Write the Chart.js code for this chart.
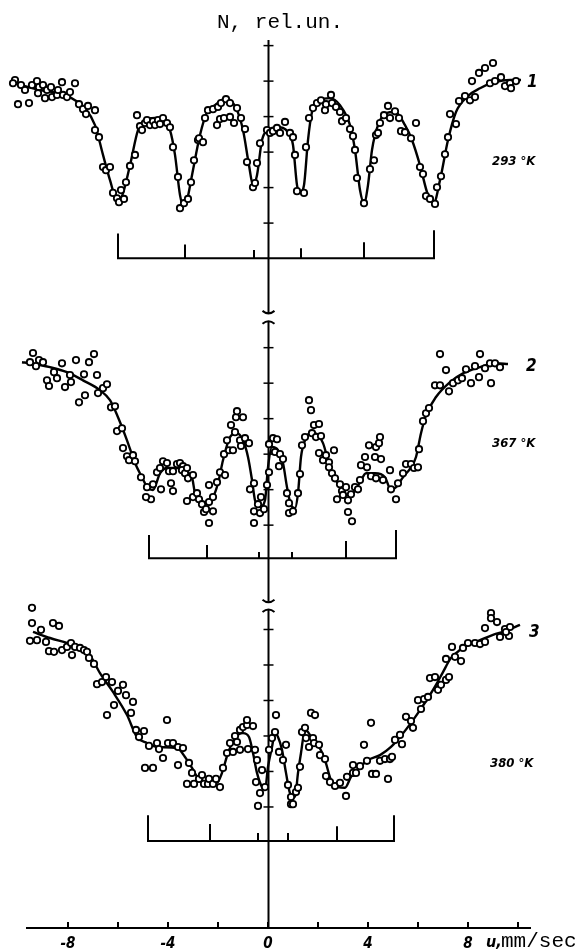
<!DOCTYPE html>
<html>
<head>
<meta charset="utf-8">
<script src="https://cdn.jsdelivr.net/npm/chart.js@4.4.1/dist/chart.umd.min.js"></script>
<style>
  html, body { margin: 0; padding: 0; background: #fff; }
  #wrap { width: 587px; height: 951px; }
</style>
</head>
<body>
<div id="wrap"><canvas id="chart" width="587" height="951"></canvas></div>
<script>
/* Mossbauer spectra at three temperatures, N (rel. un.) vs velocity u (mm/sec) */

// velocity axis
const X_TICK_LABELS = [-8, -4, 0, 4, 8];
const X_TICK_MARKS = [-8, -6, -4, -2, 0, 2, 4, 6, 8, 10];
const Y_TICKS = [0, 1, 2, 3, 4, 5];   // ticks of each panel, local units

const LABELS = ['1', '2', '3'];
const TEMPS = ['293 °K', '367 °K', '380 °K'];

// each spectrum is shifted up by its own offset (rel. un.)
const OFFSETS = [19.86, 11.35, 3.41];

// spectrum 1 (293 K): measured counts [u, N]
const spec1 = [
  [-10.12,4.03],[-10.20,3.94],[-9.88,3.89],[-9.72,3.75],[-9.44,3.89],[-9.24,4.00],[-9.16,3.83],[-9.00,3.89],
  [-9.20,3.66],[-8.92,3.52],[-8.84,3.75],[-8.68,3.83],[-8.64,3.55],[-8.44,3.61],[-8.40,3.75],[-8.24,3.97],
  [-8.20,3.61],[-8.04,3.55],[-7.92,3.69],[-7.72,3.94],[-10.00,3.35],[-9.56,3.38],[-7.56,3.35],[-7.40,3.21],
  [-7.20,3.30],[-7.28,3.07],[-6.92,3.18],[-6.92,2.62],[-6.76,2.42],[-6.60,1.58],[-6.48,1.49],[-6.32,1.58],
  [-6.20,0.85],[-6.04,0.70],[-5.96,0.59],[-5.88,0.93],[-5.76,0.68],[-5.68,1.15],[-5.52,1.61],[-5.32,1.92],
  [-5.24,3.04],[-5.12,2.73],[-5.04,2.62],[-4.92,2.82],[-4.84,2.90],[-4.72,2.76],[-4.60,2.87],[-4.52,2.76],
  [-4.40,2.90],[-4.32,2.79],[-4.20,2.96],[-4.04,2.82],[-3.92,2.70],[-3.80,2.14],[-3.60,1.30],[-3.52,0.42],
  [-3.36,0.56],[-3.20,0.68],[-3.08,1.15],[-2.96,1.77],[-2.80,2.34],[-2.76,2.39],[-2.60,2.28],[-2.52,2.96],
  [-2.40,3.18],[-2.20,3.21],[-2.00,3.27],[-1.88,3.38],[-1.68,3.49],[-1.52,3.38],[-1.24,3.24],[-1.08,2.96],
  [-2.04,2.76],[-1.92,2.93],[-1.76,2.96],[-1.52,2.99],[-1.36,2.82],[-0.92,2.65],[-0.84,1.72],[-0.60,1.01],
  [-0.52,1.13],[-0.44,1.69],[-0.32,2.25],[-0.04,2.62],[0.08,2.54],[0.20,2.59],[0.36,2.68],[0.48,2.54],
  [0.68,2.85],[0.88,2.54],[1.00,2.42],[1.08,1.92],[1.16,0.90],[1.44,0.85],[1.52,2.14],[1.64,2.96],
  [1.80,3.24],[1.96,3.38],[2.12,3.46],[2.28,3.18],[2.32,3.35],[2.52,3.61],[2.56,3.38],[2.72,3.27],
  [2.88,3.13],[2.96,2.87],[3.12,2.96],[3.28,2.65],[3.40,2.45],[3.48,2.06],[3.56,1.27],[3.84,0.56],
  [4.08,1.52],[4.24,1.77],[4.32,2.48],[4.40,2.54],[4.48,2.82],[4.64,3.04],[4.80,3.30],[4.88,2.96],
  [5.08,3.15],[5.24,2.96],[5.32,2.59],[5.48,2.56],[5.72,2.39],[5.92,2.82],[6.08,1.58],[6.20,1.38],
  [6.32,0.76],[6.48,0.68],[6.68,0.54],[6.76,1.01],[6.92,1.32],[7.08,1.94],[7.20,2.42],[7.28,3.07],
  [7.52,2.79],[7.64,3.44],[7.88,3.58],[8.08,3.46],[8.28,3.55],[8.16,4.00],[8.44,4.23],[8.68,4.37],
  [9.00,4.51],[8.88,3.94],[9.08,4.00],[9.32,4.11],[9.48,3.86],[9.68,3.94],[9.72,3.80],[9.92,4.00]
];

// spectrum 1: fitted curve
const fit1 = [
  [-10.12,3.94],[-9.12,3.75],[-8.12,3.61],[-7.72,3.46],[-7.32,3.24],[-6.92,2.76],[-6.60,1.92],[-6.32,1.21],
  [-6.04,0.65],[-5.84,0.76],[-5.52,1.63],[-5.20,2.62],[-4.92,2.90],[-4.52,2.96],[-4.20,2.90],[-3.92,2.62],
  [-3.72,1.92],[-3.52,0.79],[-3.40,0.51],[-3.24,0.65],[-3.04,1.35],[-2.72,2.48],[-2.44,3.13],[-2.12,3.32],
  [-1.68,3.52],[-1.28,3.24],[-1.00,2.62],[-0.76,1.63],[-0.60,1.07],[-0.44,1.35],[-0.24,2.34],[0.00,2.62],
  [0.40,2.70],[0.80,2.56],[1.00,2.20],[1.16,1.07],[1.28,0.85],[1.44,1.07],[1.60,2.34],[1.76,3.13],
  [2.08,3.46],[2.48,3.52],[2.88,3.32],[3.28,2.76],[3.48,2.06],[3.68,0.93],[3.84,0.56],[4.00,1.07],
  [4.16,2.06],[4.40,2.76],[4.72,3.10],[5.08,3.13],[5.48,2.76],[5.76,2.34],[6.08,1.63],[6.40,0.79],
  [6.64,0.59],[6.88,1.21],[7.20,2.34],[7.52,3.13],[8.00,3.58],[8.48,3.80],[9.08,3.97],[9.68,4.03],[10.12,4.03]
];

// spectrum 2 (367 K): measured counts
const spec2 = [
  [-9.40,4.85],[-9.52,4.59],[-9.28,4.48],[-9.16,4.65],[-9.00,4.59],[-8.84,4.08],[-8.76,3.92],[-8.56,4.31],
  [-8.44,4.14],[-8.24,4.56],[-8.12,3.89],[-7.92,4.23],[-7.88,4.03],[-7.68,4.65],[-7.56,3.46],[-7.32,3.66],
  [-7.36,4.25],[-7.16,4.59],[-6.96,4.82],[-6.84,4.23],[-6.80,3.72],[-6.60,3.86],[-6.44,3.97],[-6.28,3.32],
  [-6.12,3.35],[-6.04,2.65],[-5.84,2.73],[-5.80,2.17],[-5.64,1.94],[-5.56,1.83],[-5.40,1.97],[-5.32,1.80],
  [-5.08,1.35],[-4.84,1.07],[-4.68,0.73],[-4.88,0.79],[-4.60,1.15],[-4.44,1.49],[-4.32,1.61],[-4.28,1.01],
  [-4.20,1.80],[-4.04,1.75],[-3.96,1.52],[-3.88,1.18],[-3.80,0.96],[-3.80,1.52],[-3.64,1.72],[-3.52,1.75],
  [-3.40,1.66],[-3.44,1.55],[-3.32,1.46],[-3.24,1.61],[-3.20,1.32],[-3.00,1.41],[-3.00,0.79],[-3.24,0.68],
  [-2.84,0.90],[-2.76,0.73],[-2.64,0.59],[-2.56,0.37],[-2.48,0.45],[-2.36,0.65],[-2.36,0.06],[-2.36,1.13],
  [-2.20,0.79],[-2.20,0.39],[-2.04,1.21],[-1.92,1.49],[-1.72,1.41],[-1.76,2.00],[-1.64,2.39],[-1.56,2.11],
  [-1.48,2.82],[-1.40,2.11],[-1.32,2.62],[-1.28,3.04],[-1.24,3.21],[-1.12,2.39],[-1.00,3.04],[-1.08,2.23],
  [-0.92,2.45],[-0.76,2.31],[-0.72,1.01],[-0.56,1.18],[-0.56,0.39],[-0.56,0.06],[-0.40,0.59],[-0.28,0.79],
  [-0.32,0.34],[-0.16,0.45],[-0.04,1.13],[0.04,1.49],[0.04,2.28],[0.20,2.45],[0.36,2.42],[0.28,2.06],
  [0.48,2.00],[0.44,1.66],[0.60,1.86],[0.76,0.90],[0.84,0.62],[0.84,0.34],[1.00,0.39],[1.20,0.90],
  [1.28,1.44],[1.36,2.25],[1.48,2.48],[1.64,3.52],[1.72,3.24],[1.84,2.82],[2.04,2.85],[1.76,2.59],
  [1.92,2.48],[2.12,2.51],[2.04,2.03],[2.20,1.83],[2.32,1.97],[2.44,1.77],[2.44,1.63],[2.56,1.46],
  [2.64,2.11],[2.68,1.32],[2.88,1.15],[2.76,0.73],[2.96,0.96],[3.00,0.85],[3.12,1.07],[3.20,0.70],
  [3.20,0.37],[3.36,0.11],[3.32,0.87],[3.48,1.07],[3.60,1.01],[3.68,1.27],[3.72,1.69],[3.88,1.92],
  [3.96,1.63],[4.04,2.25],[4.12,1.38],[4.28,1.92],[4.32,2.20],[4.44,2.31],[4.48,2.48],[4.52,1.86],
  [4.32,1.32],[4.60,1.27],[4.88,1.55],[4.92,1.01],[5.12,0.73],[5.20,1.18],[5.40,1.46],[5.52,1.72],
  [5.72,1.72],[5.84,1.61],[6.00,1.63],[6.04,2.14],[6.20,2.93],[6.32,3.15],[6.44,3.30],[6.68,3.94],
  [6.88,3.94],[6.88,4.82],[7.12,4.37],[7.24,3.77],[7.40,4.00],[7.60,4.08],[7.76,4.14],[7.92,4.39],
  [8.12,4.00],[8.28,4.48],[8.44,4.17],[8.48,4.82],[8.68,4.42],[8.88,4.56],[8.92,4.00],[9.08,4.56],[9.28,4.45]
];

// spectrum 2: fitted curve
const fit2 = [
  [-9.84,4.59],[-9.52,4.56],[-8.72,4.45],[-8.04,4.31],[-7.40,4.08],[-6.72,3.80],[-6.32,3.52],[-6.00,3.04],
  [-5.64,2.39],[-5.32,1.75],[-5.04,1.35],[-4.80,1.04],[-4.60,0.99],[-4.32,1.46],[-4.04,1.61],[-3.64,1.61],
  [-3.24,1.49],[-3.04,1.35],[-2.92,0.90],[-2.72,0.70],[-2.44,0.62],[-2.20,0.79],[-2.00,1.18],[-1.80,1.83],
  [-1.52,2.48],[-1.24,2.59],[-1.00,2.39],[-0.80,1.92],[-0.64,1.27],[-0.52,0.70],[-0.32,0.51],[-0.12,0.70],
  [0.00,1.63],[0.16,2.20],[0.40,2.11],[0.60,1.75],[0.76,1.07],[0.92,0.56],[1.08,0.48],[1.20,0.90],
  [1.32,1.92],[1.48,2.39],[1.68,2.59],[1.88,2.59],[2.20,2.31],[2.48,1.63],[2.88,1.07],[3.12,0.85],
  [3.40,0.90],[3.68,1.21],[3.92,1.46],[4.28,1.46],[4.68,1.35],[4.92,0.99],[5.12,1.07],[5.40,1.35],
  [5.72,1.63],[5.92,1.92],[6.12,2.59],[6.32,3.10],[6.72,3.61],[7.28,4.03],[7.80,4.28],[8.48,4.45],
  [9.12,4.56],[9.60,4.54]
];

// spectrum 3 (380 K): measured counts
const spec3 = [
  [-9.44,5.61],[-9.44,5.18],[-9.52,4.68],[-9.24,4.70],[-9.08,4.99],[-8.88,4.65],[-8.76,4.39],[-8.60,5.18],
  [-8.56,4.37],[-8.36,5.10],[-8.24,4.42],[-8.04,4.51],[-7.84,4.28],[-7.88,4.62],[-7.72,4.51],[-7.52,4.48],
  [-7.36,4.42],[-7.24,4.37],[-7.16,4.20],[-6.96,4.03],[-6.84,3.46],[-6.64,3.52],[-6.48,3.66],[-6.24,3.52],
  [-6.44,2.59],[-6.16,2.87],[-6.00,3.27],[-5.80,3.44],[-5.68,3.15],[-5.40,2.96],[-5.48,2.65],[-5.28,2.17],
  [-5.16,1.97],[-4.96,2.14],[-4.76,1.72],[-4.92,1.10],[-4.60,1.10],[-4.44,1.80],[-4.36,1.63],[-4.20,1.38],
  [-4.04,2.45],[-4.00,1.80],[-3.80,1.80],[-3.60,1.18],[-3.60,1.69],[-3.40,1.66],[-3.24,0.65],[-3.16,1.24],
  [-3.04,0.96],[-2.96,0.65],[-2.76,0.79],[-2.64,0.90],[-2.56,0.65],[-2.40,0.65],[-2.36,0.79],[-2.20,0.65],
  [-2.08,0.79],[-1.92,0.56],[-1.80,1.10],[-1.64,1.52],[-1.52,1.80],[-1.40,1.55],[-1.32,2.00],[-1.24,1.83],
  [-1.12,1.61],[-1.12,2.17],[-1.00,2.25],[-0.84,2.31],[-0.80,1.63],[-0.84,2.45],[-0.60,2.28],[-0.52,1.61],
  [-0.44,1.32],[-0.48,0.70],[-0.24,1.04],[-0.32,0.39],[-0.40,0.03],[-0.12,0.56],[0.04,1.61],[0.16,1.94],
  [0.28,2.11],[0.32,2.59],[0.44,1.55],[0.60,1.32],[0.72,1.75],[0.80,0.62],[0.92,0.28],[0.92,0.08],
  [1.00,0.08],[1.12,0.42],[1.20,0.54],[1.28,1.13],[1.36,2.11],[1.48,2.23],[1.52,1.94],[1.64,1.69],
  [1.72,2.65],[1.88,2.59],[1.80,1.94],[1.84,1.80],[2.04,1.75],[2.08,1.46],[2.28,1.35],[2.32,0.87],
  [2.48,0.70],[2.68,0.59],[2.88,0.68],[3.12,0.31],[3.16,0.85],[3.40,0.96],[3.40,1.18],[3.52,0.96],
  [3.68,1.15],[3.84,1.75],[3.96,1.30],[4.12,2.37],[4.16,0.93],[4.32,0.93],[4.48,1.30],[4.68,1.35],
  [4.80,0.79],[4.88,1.35],[4.96,1.41],[5.08,1.89],[5.28,2.03],[5.36,1.77],[5.52,2.54],[5.72,2.42],
  [5.80,2.23],[6.00,3.01],[6.12,2.76],[6.24,3.04],[6.40,3.10],[6.48,3.63],[6.68,3.66],[6.80,3.30],
  [6.92,3.44],[7.12,3.58],[7.24,3.66],[7.12,4.17],[7.36,4.51],[7.48,4.23],[7.72,4.11],[7.80,4.48],
  [8.00,4.62],[8.28,4.62],[8.48,4.59],[8.68,4.65],[8.68,5.04],[8.92,5.46],[8.92,5.32],[9.16,5.21],
  [9.28,4.79],[9.48,5.01],[9.64,4.82],[9.68,5.07],[9.52,4.93]
];

// spectrum 3: fitted curve
const fit3 = [
  [-9.40,4.93],[-8.72,4.76],[-8.04,4.62],[-7.32,4.45],[-7.12,4.28],[-6.72,3.77],[-6.20,3.24],[-5.64,2.59],
  [-5.24,1.97],[-4.84,1.80],[-4.44,1.69],[-3.64,1.66],[-3.32,1.41],[-3.04,1.10],[-2.80,0.82],[-2.44,0.70],
  [-2.04,0.68],[-1.84,0.96],[-1.60,1.52],[-1.32,1.94],[-1.00,2.08],[-0.76,1.97],[-0.60,1.52],[-0.44,0.96],
  [-0.24,0.56],[-0.12,0.48],[0.00,1.13],[0.16,1.69],[0.28,2.08],[0.40,1.97],[0.56,1.61],[0.72,0.96],
  [0.88,0.39],[1.08,0.28],[1.20,0.96],[1.32,1.52],[1.48,2.17],[1.60,2.11],[1.80,1.89],[2.00,1.75],
  [2.28,1.32],[2.52,0.76],[2.80,0.56],[3.08,0.54],[3.32,0.85],[3.68,1.13],[4.00,1.32],[4.48,1.46],
  [4.92,1.69],[5.28,1.97],[5.72,2.37],[6.08,2.73],[6.40,3.07],[6.72,3.44],[7.00,3.80],[7.32,4.20],
  [7.68,4.42],[8.00,4.56],[8.48,4.70],[9.00,4.85],[9.52,4.96],[10.08,5.13]
];

// line positions of the stick diagrams under each spectrum (u) and their heights
const sticks1V = [-6.00, -3.32, -0.56, 1.32, 3.84, 6.64];
const sticks1H = [0.70, 0.39, 0.23, 0.28, 0.45, 0.79];
const sticks2V = [-4.76, -2.44, -0.36, 0.96, 3.12, 5.12];
const sticks2H = [0.65, 0.37, 0.17, 0.17, 0.48, 0.79];
const sticks3V = [-4.80, -2.32, -0.40, 0.80, 2.76, 5.04];
const sticks3H = [0.73, 0.48, 0.23, 0.23, 0.42, 0.73];
const STICK_BASE = [-0.99, -0.93, -0.96];

// broken N axis: pieces in global units
const AXIS_PIECES = [[17.33, 25.02], [9.19, 17.08], [0, 8.96]];
const X_AXIS_RANGE = [-9.68, 10.52];

const FONT_NUM = '"Liberation Sans Narrow", "DejaVu Sans Condensed", "Liberation Sans", sans-serif';
const FONT_MONO = '"Liberation Mono", "DejaVu Sans Mono", monospace';

function shift(pairs, off) {
  return pairs.map(([x, y]) => ({ x, y: y + off }));
}

// bracket: sticks hanging up from a common base line
function bracket(vs, hs, base, off) {
  const pts = [];
  vs.forEach((v, i) => {
    if (i === 0) {
      pts.push({ x: v, y: off + base + hs[i] }, { x: v, y: off + base });
    } else {
      pts.push({ x: v, y: off + base }, { x: v, y: off + base + hs[i] });
      if (i < vs.length - 1) pts.push({ x: v, y: off + base });
    }
  });
  return pts;
}

const specs = [spec1, spec2, spec3];
const fits = [fit1, fit2, fit3];
const stickV = [sticks1V, sticks2V, sticks3V];
const stickH = [sticks1H, sticks2H, sticks3H];

const datasets = [];
specs.forEach((s, i) => {
  datasets.push({
    type: 'scatter',
    data: shift(s, OFFSETS[i]),
    pointRadius: 3.2,
    pointBorderWidth: 1.8,
    pointBorderColor: '#000',
    pointBackgroundColor: '#fff',
    showLine: false,
    order: 0,
  });
  datasets.push({
    type: 'line',
    data: shift(fits[i], OFFSETS[i]),
    borderColor: '#000',
    borderWidth: 2.4,
    pointRadius: 0,
    cubicInterpolationMode: 'monotone',
    fill: false,
    order: 1,
  });
  datasets.push({
    type: 'line',
    data: bracket(stickV[i], stickH[i], STICK_BASE[i], OFFSETS[i]),
    borderColor: '#000',
    borderWidth: 2,
    pointRadius: 0,
    tension: 0,
    fill: false,
    order: 2,
  });
});

// axes drawn by hand: broken N axis with ticks, velocity axis line with small ticks
const axesPlugin = {
  id: 'axesPlugin',
  beforeDatasetsDraw(chart) {
    const { ctx, scales: { x, y } } = chart;
    const x0 = Math.round(x.getPixelForValue(0)) + 0.5;
    const yb = y.getPixelForValue(0);
    ctx.save();
    ctx.strokeStyle = '#000';
    ctx.lineWidth = 2;

    ctx.beginPath();
    ctx.moveTo(x.getPixelForValue(X_AXIS_RANGE[0]), yb);
    ctx.lineTo(x.getPixelForValue(X_AXIS_RANGE[1]), yb);
    ctx.stroke();
    X_TICK_MARKS.forEach(v => {
      const px = x.getPixelForValue(v);
      ctx.beginPath();
      ctx.moveTo(px, yb);
      ctx.lineTo(px, yb - 6);
      ctx.stroke();
    });

    AXIS_PIECES.forEach(([a, b], i) => {
      const pa = y.getPixelForValue(a), pb = y.getPixelForValue(b);
      ctx.beginPath();
      ctx.moveTo(x0, pa);
      ctx.lineTo(x0, pb);
      ctx.stroke();
      // break marks
      if (i < AXIS_PIECES.length - 1) {
        ctx.beginPath();
        ctx.moveTo(x0 - 6, pa - 2);
        ctx.quadraticCurveTo(x0, pa + 3, x0 + 6, pa - 2);
        ctx.stroke();
      }
      if (i > 0) {
        ctx.beginPath();
        ctx.moveTo(x0 - 6, pb + 2);
        ctx.quadraticCurveTo(x0, pb - 3, x0 + 6, pb + 2);
        ctx.stroke();
      }
    });

    ctx.lineWidth = 1.5;
    OFFSETS.forEach(off => {
      Y_TICKS.forEach(t => {
        const py = y.getPixelForValue(off + t);
        ctx.beginPath();
        ctx.moveTo(x0 - 5, py);
        ctx.lineTo(x0 + 5, py);
        ctx.stroke();
      });
    });
    ctx.restore();
  },
  afterDraw(chart) {
    const { ctx } = chart;
    ctx.save();
    ctx.fillStyle = '#000';
    ctx.textBaseline = 'alphabetic';

    ctx.font = '21px ' + FONT_MONO;
    ctx.textAlign = 'center';
    ctx.fillText('N, rel.un.', 280, 28);

    ctx.textAlign = 'left';
    ctx.font = 'italic bold 16px ' + FONT_NUM;
    ctx.fillText('u,', 486, 947);
    ctx.font = '21px ' + FONT_MONO;
    ctx.fillText('mm/sec', 501, 947);

    const numPos = [[527, 87], [526, 371], [529, 637]];
    const tempPos = [[492, 165], [492, 447], [490, 767]];
    LABELS.forEach((t, i) => {
      ctx.font = 'italic bold 17px ' + FONT_NUM;
      ctx.fillText(t, numPos[i][0], numPos[i][1]);
      ctx.font = 'italic bold 13px ' + FONT_NUM;
      ctx.fillText(TEMPS[i], tempPos[i][0], tempPos[i][1]);
    });
    ctx.restore();
  },
};

new Chart(document.getElementById('chart'), {
  type: 'scatter',
  data: { datasets },
  options: {
    responsive: false,
    animation: false,
    layout: { padding: { top: 30, bottom: 0, left: 8, right: 42 } },
    plugins: { legend: { display: false }, tooltip: { enabled: false } },
    scales: {
      x: {
        type: 'linear',
        min: -10.4,
        max: 11.08,
        grid: { display: false, drawTicks: false },
        border: { display: false },
        afterBuildTicks: (axis) => { axis.ticks = X_TICK_LABELS.map(v => ({ value: v })); },
        afterFit: (axis) => { axis.height = 23; },
        ticks: {
          padding: 7,
          color: '#000',
          autoSkip: false,
          maxRotation: 0,
          font: { family: FONT_NUM, size: 15, style: 'italic', weight: 'bold' },
          callback: (v) => String(v),
        },
      },
      y: { type: 'linear', display: false, min: 0, max: 25.3 },
    },
  },
  plugins: [axesPlugin],
});
</script>
</body>
</html>
